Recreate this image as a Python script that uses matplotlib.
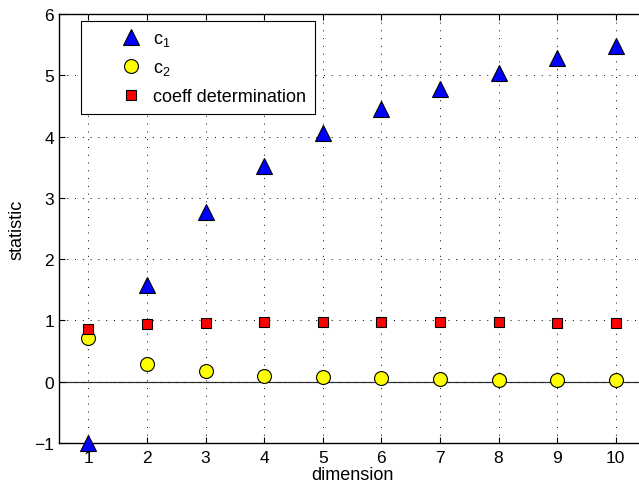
import matplotlib.pyplot as plt
from matplotlib.legend_handler import HandlerLine2D

plt.rcParams["font.family"] = ["Liberation Sans", "DejaVu Sans"]
plt.rcParams["mathtext.fontset"] = "custom"
plt.rcParams["mathtext.rm"] = "Liberation Sans"
plt.rcParams["mathtext.it"] = "Liberation Sans"

dims = [1, 2, 3, 4, 5, 6, 7, 8, 9, 10]
c1 = [-1.0, 1.58, 2.77, 3.52, 4.06, 4.45, 4.78, 5.04, 5.28, 5.48]
c2 = [0.72, 0.29, 0.17, 0.10, 0.07, 0.055, 0.04, 0.035, 0.03, 0.03]
coeff = [0.865, 0.935, 0.96, 0.97, 0.975, 0.975, 0.97, 0.97, 0.96, 0.955]

fig = plt.figure(figsize=(6.39, 4.85), dpi=100)
# axes run a little past the right edge, as in the original export
ax = fig.add_axes([59 / 639, 41 / 485, 586 / 639, 429 / 485])

ax.axhline(0, color="#333333", lw=0.9, zorder=1)
ax.plot(dims, c1, ls="none", marker="^", ms=12, mfc="blue", mec="black", mew=0.8,
        label=r"c$_\mathregular{1}$", clip_on=False, zorder=3)
ax.plot(dims, c2, ls="none", marker="o", ms=10, mfc="yellow", mec="black", mew=0.8,
        label=r"c$_\mathregular{2}$", clip_on=False, zorder=3)
ax.plot(dims, coeff, ls="none", marker="s", ms=7.5, mfc="red", mec="black", mew=0.8,
        label="coeff determination", clip_on=False, zorder=3)

ax.set_xlim(0.5, 10.5)
ax.set_ylim(-1, 6)
ax.set_xticks(dims)
ax.set_yticks(range(-1, 7))
ax.set_yticklabels(["\u22121"] + [str(v) for v in range(0, 7)])
ax.grid(True, ls=(0, (1, 7)), color="black", lw=0.7)
ax.tick_params(direction="in", top=True, right=True, labelsize=12.5, length=4)
ax.tick_params(axis="x", pad=5)
for s in ax.spines.values():
    s.set_linewidth(1.0)

ax.set_xlabel("dimension", fontsize=13, labelpad=1)
ax.set_ylabel("statistic", fontsize=13, labelpad=6)

# push legend markers right, text stays put
hm = {h: HandlerLine2D(xpad=1.33) for h in ax.get_lines()}
leg = ax.legend(loc="upper left", bbox_to_anchor=(0.0375, 0.9837), borderaxespad=0,
                fontsize=13, fancybox=False, framealpha=1, edgecolor="black",
                handletextpad=0.3, labelspacing=0.62, borderpad=0.5,
                handlelength=3.2, handler_map=hm)
leg.get_frame().set_linewidth(0.8)

fig.savefig("out.png", dpi=100)
